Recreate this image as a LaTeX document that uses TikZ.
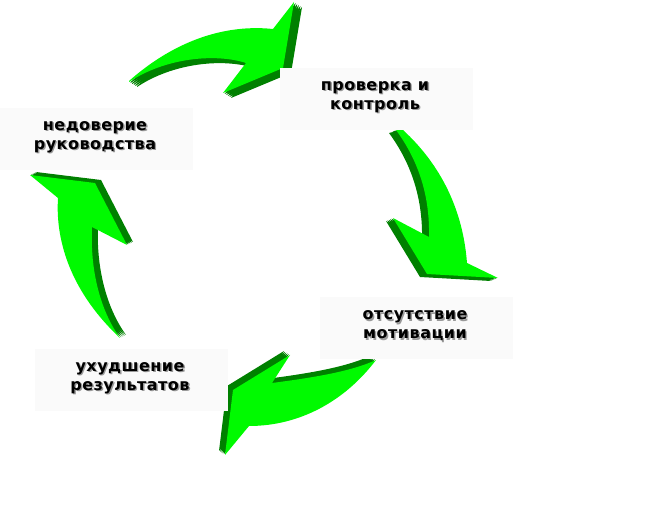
\documentclass[tikz,border=0pt]{standalone}
\usepackage{fontspec}
\newfontfamily\lblfont[LetterSpace=3]{DejaVu Sans}
\usetikzlibrary{calc}

\definecolor{lime}{RGB}{0,250,0}
\definecolor{limedark}{RGB}{0,128,0}

% the four arrow outlines, in pixels of the original picture
\newcommand\arrowtop{(129,81) .. controls (165,49) and (215,23) .. (273,29) -- (294,2) -- (283,68) -- (223,93) -- (246,63) .. controls (215,53) and (165,58) .. (129,82) -- cycle}
\newcommand\arrowright{(396,130) -- (403,130) .. controls (441,165) and (463,210) .. (467,263) -- (498,278) -- (427,274) -- (393,218) -- (429,237) .. controls (430,195) and (418,160) .. (396,130) -- cycle}
\newcommand\arrowbottom{(376,360) .. controls (345,401) and (300,426) .. (249,426) -- (225,455) -- (233,390) -- (290,355) -- (272,383) .. controls (310,378) and (350,372) .. (376,360) -- cycle}
\newcommand\arrowleft{(120,338) .. controls (74,295) and (55,245) .. (58,198) -- (30,175) -- (95,183) -- (127,245) -- (92,227) .. controls (90,270) and (100,310) .. (120,338) -- cycle}

\begin{document}
\begin{tikzpicture}[x=0.75pt, y=-0.75pt,
    lbl/.style={align=center, font=\lblfont\bfseries\fontsize{12}{14.25}\selectfont},
    lblbox/.style={fill=black!2, minimum width=144.75pt, minimum height=46.5pt, inner sep=0pt}]
  \useasboundingbox (0,0) rectangle (654,527);

  % arrows: dark extrusion first, green face on top
  \foreach \shape/\dx/\dy in {\arrowtop/8/5, \arrowright/-7/3, \arrowbottom/-6/-4, \arrowleft/6/-3} {
    \foreach \t in {0.2,0.4,0.6,0.8,1}
      \fill[limedark, shift={(\t*\dx,\t*\dy)}] \shape;
    \fill[lime] \shape;
  }

  % labels with their pale boxes and grey shadow
  \foreach \n/\x/\y/\txt in {1/375/97/{проверка и\\контроль}, 2/415/326/{отсутствие\\мотивации},
      3/130/378/{ухудшение\\результатов}, 4/95/137/{недоверие\\руководства}} {
    \node[lblbox] (b\n) at (\x+1.5,\y+2.5) {};
    \node[lbl, text=black!40] (s\n) at (\x+1.4,\y+1.4) {\txt};
    \node[lbl] (t\n) at (\x,\y) {\txt};
  }
\end{tikzpicture}
\end{document}
